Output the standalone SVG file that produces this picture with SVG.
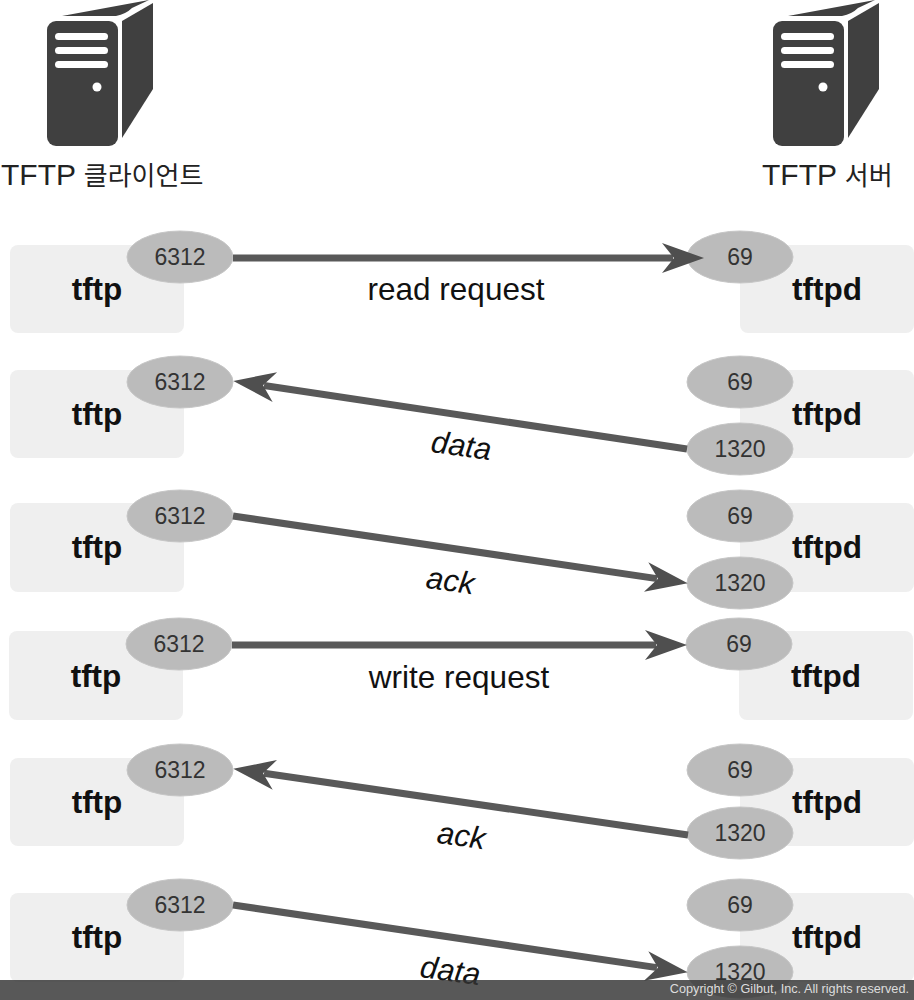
<svg xmlns="http://www.w3.org/2000/svg" width="914" height="1000" viewBox="0 0 914 1000">
<style>
.box{fill:#efefef}
.port{fill:#bbb;stroke:#c6c6c6;stroke-width:1}
.pt{font:23px "Liberation Sans",sans-serif;fill:#333;text-anchor:middle}
.nm{font:bold 31.5px "Liberation Sans",sans-serif;fill:#111;text-anchor:middle}
.lb{font:31.5px "Liberation Sans",sans-serif;fill:#111;text-anchor:middle}
.it{font:italic 31px "Liberation Sans",sans-serif;fill:#111;text-anchor:middle}
.ti{font:30px "Liberation Sans","Noto Sans CJK KR",sans-serif;fill:#222}
.ko{font-size:26px}
.ln{stroke:#595959;stroke-width:7;fill:none;marker-end:url(#ah)}
.dk{fill:#404040}
.wh{fill:#fff}
</style>
<defs>
<marker id="ah" markerUnits="userSpaceOnUse" markerWidth="46" markerHeight="36" refX="11" refY="18" orient="auto">
<path d="M0 3L42 18L0 33L12 18Z" fill="#4f4f4f"/>
</marker>
<g id="srv">
<path class="dk" d="M62 16L149 0L132 8Q126 14 116 16Z"/>
<path class="dk" d="M122 21L153 3V89L122 138Z"/>
<rect class="dk" x="47" y="21" width="71" height="125" rx="9"/>
<rect class="wh" x="55" y="33" width="53" height="7" rx="3.5"/>
<rect class="wh" x="55" y="47" width="53" height="7" rx="3.5"/>
<rect class="wh" x="55" y="61" width="53" height="7" rx="3.5"/>
<circle class="wh" cx="97" cy="87" r="4.5"/>
</g>
</defs>
<rect width="914" height="1000" fill="#fff"/>
<g id="client"><use href="#srv"/><text class="ti" x="1" y="185">TFTP <tspan class="ko">클라이언트</tspan></text></g>
<g id="server"><use href="#srv" x="726"/><text class="ti" x="762" y="185">TFTP <tspan class="ko">서버</tspan></text></g>

<g id="row1-client"><rect class="box" x="10" y="245" width="174" height="88" rx="8"/><text class="nm" x="97" y="300">tftp</text><ellipse class="port" cx="180" cy="257" rx="53" ry="26"/><text class="pt" x="180" y="265">6312</text></g>
<g id="row1-server"><rect class="box" x="740" y="245" width="174" height="88" rx="8"/><text class="nm" x="827" y="300">tftpd</text><ellipse class="port" cx="740" cy="257" rx="53" ry="26"/><text class="pt" x="740" y="265">69</text></g>

<g id="row2-client"><rect class="box" x="10" y="370" width="174" height="88" rx="8"/><text class="nm" x="97" y="425">tftp</text><ellipse class="port" cx="180" cy="382" rx="53" ry="26"/><text class="pt" x="180" y="390">6312</text></g>
<g id="row2-server"><rect class="box" x="740" y="370" width="174" height="88" rx="8"/><text class="nm" x="827" y="425">tftpd</text><ellipse class="port" cx="740" cy="382" rx="53" ry="26"/><text class="pt" x="740" y="390">69</text><ellipse class="port" cx="740" cy="449" rx="53" ry="26"/><text class="pt" x="740" y="457">1320</text></g>

<g id="row3-client"><rect class="box" x="10" y="503" width="174" height="89" rx="8"/><text class="nm" x="97" y="558">tftp</text><ellipse class="port" cx="180" cy="516" rx="53" ry="26"/><text class="pt" x="180" y="524">6312</text></g>
<g id="row3-server"><rect class="box" x="740" y="503" width="174" height="89" rx="8"/><text class="nm" x="827" y="558">tftpd</text><ellipse class="port" cx="740" cy="516" rx="53" ry="26"/><text class="pt" x="740" y="524">69</text><ellipse class="port" cx="740" cy="583" rx="53" ry="26"/><text class="pt" x="740" y="591">1320</text></g>

<g id="row4-client"><rect class="box" x="9" y="631" width="174" height="89" rx="8"/><text class="nm" x="96" y="687">tftp</text><ellipse class="port" cx="179" cy="644" rx="53" ry="26"/><text class="pt" x="179" y="652">6312</text></g>
<g id="row4-server"><rect class="box" x="739" y="631" width="174" height="89" rx="8"/><text class="nm" x="826" y="687">tftpd</text><ellipse class="port" cx="739" cy="644" rx="53" ry="26"/><text class="pt" x="739" y="652">69</text></g>

<g id="row5-client"><rect class="box" x="10" y="758" width="174" height="88" rx="8"/><text class="nm" x="97" y="813">tftp</text><ellipse class="port" cx="180" cy="770" rx="53" ry="26"/><text class="pt" x="180" y="778">6312</text></g>
<g id="row5-server"><rect class="box" x="740" y="758" width="174" height="88" rx="8"/><text class="nm" x="827" y="813">tftpd</text><ellipse class="port" cx="740" cy="770" rx="53" ry="26"/><text class="pt" x="740" y="778">69</text><ellipse class="port" cx="740" cy="833" rx="53" ry="26"/><text class="pt" x="740" y="841">1320</text></g>

<g id="row6-client"><rect class="box" x="10" y="893" width="174" height="89" rx="8"/><text class="nm" x="97" y="948">tftp</text><ellipse class="port" cx="180" cy="905" rx="53" ry="26"/><text class="pt" x="180" y="913">6312</text></g>
<g id="row6-server"><rect class="box" x="740" y="893" width="174" height="89" rx="8"/><text class="nm" x="827" y="948">tftpd</text><ellipse class="port" cx="740" cy="905" rx="53" ry="26"/><text class="pt" x="740" y="913">69</text><ellipse class="port" cx="740" cy="972" rx="53" ry="26"/><text class="pt" x="740" y="980">1320</text></g>

<g id="connectors">
<line class="ln" x1="233" y1="258" x2="673" y2="258"/>
<line class="ln" x1="687" y1="449" x2="264" y2="385.5"/>
<line class="ln" x1="233" y1="516" x2="657" y2="578.6"/>
<line class="ln" x1="232" y1="645" x2="656" y2="645"/>
<line class="ln" x1="688" y1="835" x2="264" y2="773.3"/>
<line class="ln" x1="233" y1="905" x2="657" y2="967.6"/>
</g>
<g id="labels">
<text class="lb" x="456" y="300">read request</text>
<text class="it" transform="translate(460 456) rotate(8)">data</text>
<text class="it" transform="translate(449 591) rotate(8)">ack</text>
<text class="lb" x="459" y="688">write request</text>
<text class="it" transform="translate(460 846) rotate(8)">ack</text>
<text class="it" transform="translate(449 981) rotate(8)">data</text>
</g>
<g id="footer">
<rect x="0" y="980" width="914" height="20" fill="#333" fill-opacity=".82"/>
<text x="909" y="993" text-anchor="end" style="font:12.7px 'Liberation Sans',sans-serif;fill:#ddd">Copyright © Gilbut, Inc. All rights reserved.</text>
</g>
</svg>
